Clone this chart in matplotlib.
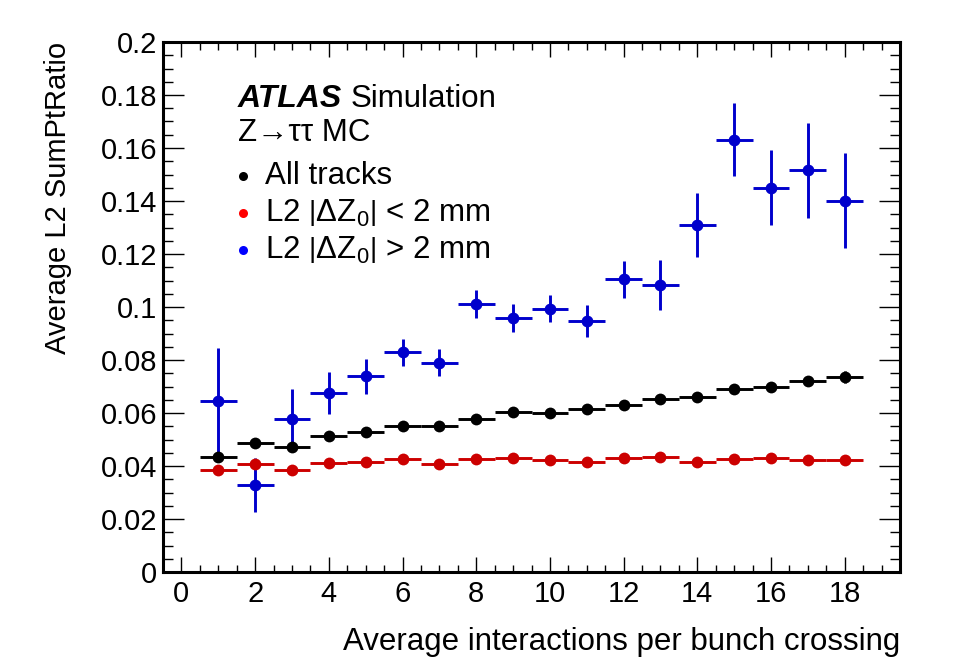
import numpy as np
import matplotlib
matplotlib.use("Agg")
import matplotlib.pyplot as plt
from matplotlib.ticker import MultipleLocator

plt.rcParams['font.family'] = ['Liberation Sans', 'DejaVu Sans']
plt.rcParams['mathtext.fontset'] = 'custom'
plt.rcParams['mathtext.rm'] = 'Liberation Sans'
plt.rcParams['mathtext.it'] = 'Liberation Sans:italic'

# DATA
mu = np.arange(1, 19)

all_tracks = [0.0435, 0.0487, 0.0472, 0.0514, 0.0527, 0.0550, 0.0550, 0.0579, 0.0604,
              0.0600, 0.0616, 0.0632, 0.0652, 0.0659, 0.0692, 0.0697, 0.0721, 0.0735]
all_err = [0.0005, 0.0005, 0.0005, 0.0005, 0.0005, 0.0005, 0.0005, 0.0006, 0.0006,
           0.0007, 0.0007, 0.0008, 0.0008, 0.0009, 0.0010, 0.0012, 0.0020, 0.0022]

dz_small = [0.0385, 0.0409, 0.0384, 0.0412, 0.0415, 0.0425, 0.0408, 0.0425, 0.0430,
            0.0423, 0.0416, 0.0430, 0.0435, 0.0416, 0.0425, 0.0429, 0.0421, 0.0424]
dz_small_err = [0.0004] * 16 + [0.0008, 0.0010]

dz_large = [0.0644, 0.0328, 0.0579, 0.0675, 0.0738, 0.0829, 0.0790, 0.1013, 0.0959,
            0.0994, 0.0948, 0.1104, 0.1084, 0.1309, 0.1632, 0.1450, 0.1516, 0.1401]
dz_large_err = [0.0200, 0.0103, 0.0110, 0.0080, 0.0065, 0.0050, 0.0050, 0.0053, 0.0052,
                0.0050, 0.0060, 0.0070, 0.0095, 0.0120, 0.0136, 0.0142, 0.0180, 0.0180]

y_ticklabels = ['0', '0.02', '0.04', '0.06', '0.08', '0.1', '0.12', '0.14',
                '0.16', '0.18', '0.2']

W, H = 955, 658
fig = plt.figure(figsize=(W / 100, H / 100), dpi=100)
ax = fig.add_axes([163 / W, 1 - 572 / H, (900 - 163) / W, (572 - 42) / H])

series = [
    (dz_large, dz_large_err, '#0000cc'),
    (all_tracks, all_err, 'black'),
    (dz_small, dz_small_err, '#cc0000'),
]
for vals, errs, col in series:
    ax.errorbar(mu, vals, yerr=errs, xerr=0.5, fmt='o', color=col, ms=8.5,
                elinewidth=2.1, capsize=0, mew=0)

ax.set_xlim(-0.5, 19.5)
ax.set_ylim(0, 0.2)
ax.xaxis.set_major_locator(MultipleLocator(2))
ax.xaxis.set_minor_locator(MultipleLocator(0.5))
ax.yaxis.set_minor_locator(MultipleLocator(0.005))
ax.set_yticks(np.arange(0, 0.201, 0.02))
ax.set_yticklabels(y_ticklabels)

ax.tick_params(axis='both', which='both', direction='in', top=True, right=True,
               labelsize=21, width=1.0)
ax.tick_params(axis='x', which='major', length=10.8, pad=6)
ax.tick_params(axis='x', which='minor', length=5.4)
ax.tick_params(axis='y', which='major', length=15, pad=4)
ax.tick_params(axis='y', which='minor', length=7.5)
for s in ax.spines.values():
    s.set_linewidth(2.2)

ax.set_xlabel('Average interactions per bunch crossing', fontsize=22.5)
ax.xaxis.label.set_ha('right')
ax.xaxis.label.set_va('baseline')
ax.xaxis.set_label_coords(1.0, (572 - 650) / 530)
ax.set_ylabel('Average L2 SumPtRatio', fontsize=21)
ax.yaxis.label.set_ha('right')
ax.yaxis.label.set_va('center')
ax.yaxis.set_label_coords((58 - 163) / 737, 1.0)

# labels and legend
def px(x, y):
    return x / W, 1 - y / H

fig.text(*px(238, 107), 'ATLAS', fontsize=23, fontweight='bold', fontstyle='italic')
fig.text(*px(351, 107), 'Simulation', fontsize=22.5)
fig.text(*px(238, 141), 'Z\u2192\u03c4\u03c4 MC', fontsize=22.5)

legend = [
    ('All tracks', 'black'),
    (r'L2 $\left|\mathrm{\Delta Z_0}\right|$ < 2 mm', '#ff0000'),
    (r'L2 $\left|\mathrm{\Delta Z_0}\right|$ > 2 mm', '#0000ff'),
]
for i, (lab, col) in enumerate(legend):
    y = 176 + 37 * i
    fig.lines.append(plt.Line2D([243 / W], [1 - y / H], marker='o', color=col,
                                ms=6.5, mew=0, transform=fig.transFigure))
    fig.text(*px(265, y), lab, fontsize=22.5, va='center')

fig.savefig('out.png', dpi=100)
